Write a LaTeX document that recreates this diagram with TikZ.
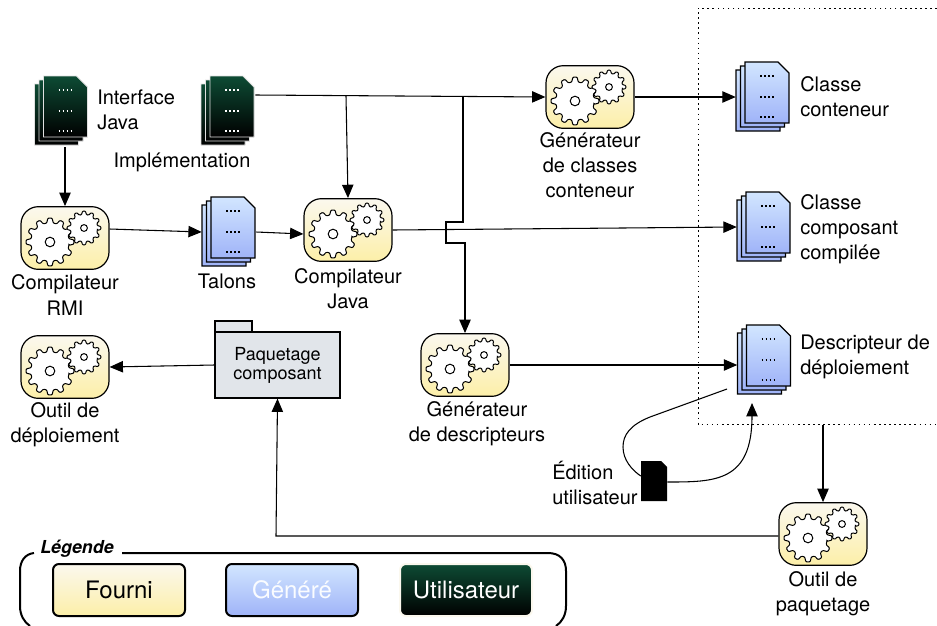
\documentclass[tikz,border=0pt]{standalone}
\usepackage{fontspec}
\setmainfont{TeX Gyre Heros}
\usetikzlibrary{arrows.meta}

\definecolor{fourniTop}{HTML}{FBF8EE}
\definecolor{fourniBot}{HTML}{FCEFA8}
\definecolor{generTop}{HTML}{D2E6FF}
\definecolor{generBot}{HTML}{9FB3F8}
\definecolor{userTop}{HTML}{0D4B34}
\definecolor{userBot}{HTML}{000000}
\definecolor{paquet}{HTML}{E1E5EA}

\newcommand{\gearpath}[3]{%
  \draw[gearline,shift={(#1,#2)}] (10:#3*0.8) \foreach \a in {30,60,...,360} {
    -- (\a-10:#3*0.8) -- (\a-5:#3) -- (\a+5:#3) -- (\a+10:#3*0.8) } -- cycle;
  \draw[gearline,shift={(#1,#2)}] (0,0) circle (#3*0.2);
}
\newcommand{\sheetpath}[3]{%
  \path[#3] (#1,#2) -- ++(33,0) -- ++(11,11) -- ++(0,50) -- ++(-44,0) -- cycle;
}

\tikzset{
  lien/.style={line width=0.8pt,-{Triangle[length=10pt,width=8.5pt]}},
  trait/.style={line width=0.8pt},
  lab/.style={font=\fontsize{15}{18.8}\selectfont,align=center,inner sep=0pt},
  labg/.style={lab,align=left,anchor=west},
  outilbox/.style={draw=black,line width=0.9pt,rounded corners=13pt,top color=fourniTop,bottom color=fourniBot,minimum width=66pt,minimum height=47pt,inner sep=0pt},
  stackbox/.style={minimum width=40.5pt,minimum height=52.5pt,inner sep=0pt},
  legbox/.style={rounded corners=4.5pt,minimum width=99pt,minimum height=39pt,inner sep=0pt,font=\fontsize{18}{20}\selectfont},
  gearline/.style={draw=black,line width=0.75pt,fill=white,rounded corners=0.7pt},
  sheetblue/.style={draw=black,line width=0.9pt,top color=generTop,bottom color=generBot},
  sheetgreen/.style={draw=black!12,line width=0.6pt,top color=userTop,bottom color=userBot},
  rows/.style={line width=1pt,dash pattern=on 1.2pt off 1.8pt},
  gears/.pic={\gearpath{-15}{4}{24}\gearpath{19}{-10}{17}},
  docstack/.pic={
    \sheetpath{-27}{-27}{#1}
    \sheetpath{-22.5}{-31}{#1}
    \sheetpath{-18}{-35}{#1}
  },
  rowsblack/.pic={\foreach \r in {-21,0,20} {\draw[rows,black] (-3,\r) -- (12,\r);}},
  rowswhite/.pic={\foreach \r in {-21,0,20} {\draw[rows,white] (-3,\r) -- (12,\r);}}
}

\begin{document}
\begin{tikzpicture}[x=0.75pt,y=0.75pt,yscale=-1,xscale=1]
\useasboundingbox (0,0) rectangle (937,625);

%Shape: dotted frame
\draw [line width=0.75pt,dash pattern=on 1.2pt off 2.6pt] (937,8) -- (698,8) -- (698,424) -- (937,424) ;

%Shape: gear boxes
\draw (65,238) node (cr) [outilbox] {};
\draw (348,230) node (cj) [outilbox] {};
\draw (590,97) node (gc) [outilbox] {};
\draw (465,365) node (gd) [outilbox] {};
\draw (65,367) node (od) [outilbox] {};
\draw (823,534) node (op) [outilbox] {};
\foreach \n in {cr,cj,gc,gd,od,op} {\pic[transform shape] at (\n) {gears};}

%Shape: document stacks
\draw (61.5,111) node (ij) [stackbox] {};
\draw (228,111) node (im) [stackbox] {};
\draw (229,232) node (ta) [stackbox] {};
\draw (763,97) node (cc) [stackbox] {};
\draw (764,227) node (cs) [stackbox] {};
\draw (764.5,360) node (ds) [stackbox] {};
\foreach \n in {ij,im} {\pic[transform shape] at (\n) {docstack=sheetgreen}; \pic[transform shape] at (\n) {rowswhite};}
\foreach \n in {ta,cc,cs,ds} {\pic[transform shape] at (\n) {docstack=sheetblue}; \pic[transform shape] at (\n) {rowsblack};}

%Shape: package
\draw [line width=0.9pt,fill=paquet] (215,332) -- (215,321) -- (252,321) -- (252,332) -- cycle ;
\draw (277.5,365) node (pk) [draw=black,line width=0.9pt,fill=paquet,minimum width=93.75pt,minimum height=49.5pt,inner sep=0pt,font=\fontsize{13.5}{14.4}\selectfont,align=center] {Paquetage\\composant};

%Shape: black document
\draw (654,481) node (ed) [minimum width=19.5pt,minimum height=30pt,inner sep=0pt] {};
\fill (641,461) -- (661,461) -- (667,467) -- (667,501) -- (641,501) -- cycle ;

%Free ends
\coordinate (edd) at (727,389);
\coordinate (dsb) at (752,403);

%Connectors
\draw [lien] (65,147) -- (cr.north) ;
\draw [lien] ([yshift=-6.75pt]cr.east) -- (ta.west) ;
\draw [lien] (ta.east) -- ([yshift=3pt]cj.west) ;
\draw [lien] ([yshift=-12pt]im.east) -- (gc.west) ;
\draw [lien] (346,96) -- (cj.north) ;
\draw [lien] (gc.east) -- (cc.west) ;
\draw [lien] (cj.east) -- (cs.west) ;
\draw [lien] (gd.east) -- ([yshift=3.75pt]ds.west) ;
\draw [lien] (pk.west) -- (od.east) ;
\draw [lien] (823,425) -- (op.north) ;
\draw [lien] (463,97) -- (463,222) -- (446,222) -- (446,243) -- (465,243) -- (gd.north) ;
\draw [lien] ([yshift=1.5pt]op.west) -- (276,536) -- (pk.south) ;
\draw [trait] (edd) -- (650,417) .. controls (630,425) and (623,435) .. (623,447) .. controls (623,460) and (632,470) .. ([yshift=-3.75pt]ed.west) ;
\draw [lien] ([yshift=0.75pt]ed.east) .. controls (715,482) and (752,482) .. (dsb) ;

% Text Node
\draw (97,110) node (lij) [labg] {Interface\\Java};
% Text Node
\draw (182,162) node (lim) [lab] {Implémentation};
% Text Node
\draw (65,295) node (lcr) [lab] {Compilateur\\RMI};
% Text Node
\draw (227,281) node (lta) [lab] {Talons};
% Text Node
\draw (348,289) node (lcj) [lab] {Compilateur\\Java};
% Text Node
\draw (590,165) node (lgc) [lab] {Générateur\\de classes\\conteneur};
% Text Node
\draw (800,97) node (lcc) [labg] {Classe\\conteneur};
% Text Node
\draw (800,229) node (lcs) [labg] {Classe\\composant\\compilée};
% Text Node
\draw (800,357) node (lds) [labg] {Descripteur de\\déploiement};
% Text Node
\draw (65,425) node (lod) [lab] {Outil de\\déploiement};
% Text Node
\draw (477,424) node (lgd) [lab] {Générateur\\de descripteurs};
% Text Node
\draw (552,483) node (led) [labg] {Édition\\utilisateur};
% Text Node
\draw (823,594) node (lop) [lab] {Outil de\\paquetage};

%Shape: legend frame
\draw [line width=1.5pt] (34,553) .. controls (25,554) and (20,561) .. (20,571) -- (20,606) .. controls (20,615) and (24,622) .. (30,626) ;
\draw [line width=1.5pt] (122,553) -- (548,553) .. controls (560,553) and (566,560) .. (566,571) -- (566,606) .. controls (566,615) and (562,622) .. (556,626) ;
% Text Node
\draw (77,549) node (lleg) [inner sep=0pt,font=\fontsize{13.4}{15}\selectfont\bfseries\itshape] {Légende};
\draw (119,590) node (fo) [legbox,draw=black,line width=1.5pt,top color=fourniTop,bottom color=fourniBot] {Fourni};
\draw (292,590) node (ge) [legbox,draw=black,line width=1.5pt,top color=generTop,bottom color=generBot,text=white!90!generTop] {Généré};
\draw (466,590) node (ut) [legbox,draw=fourniTop,line width=1.5pt,top color=userTop,bottom color=userBot,text=white] {Utilisateur};

\end{tikzpicture}
\end{document}
